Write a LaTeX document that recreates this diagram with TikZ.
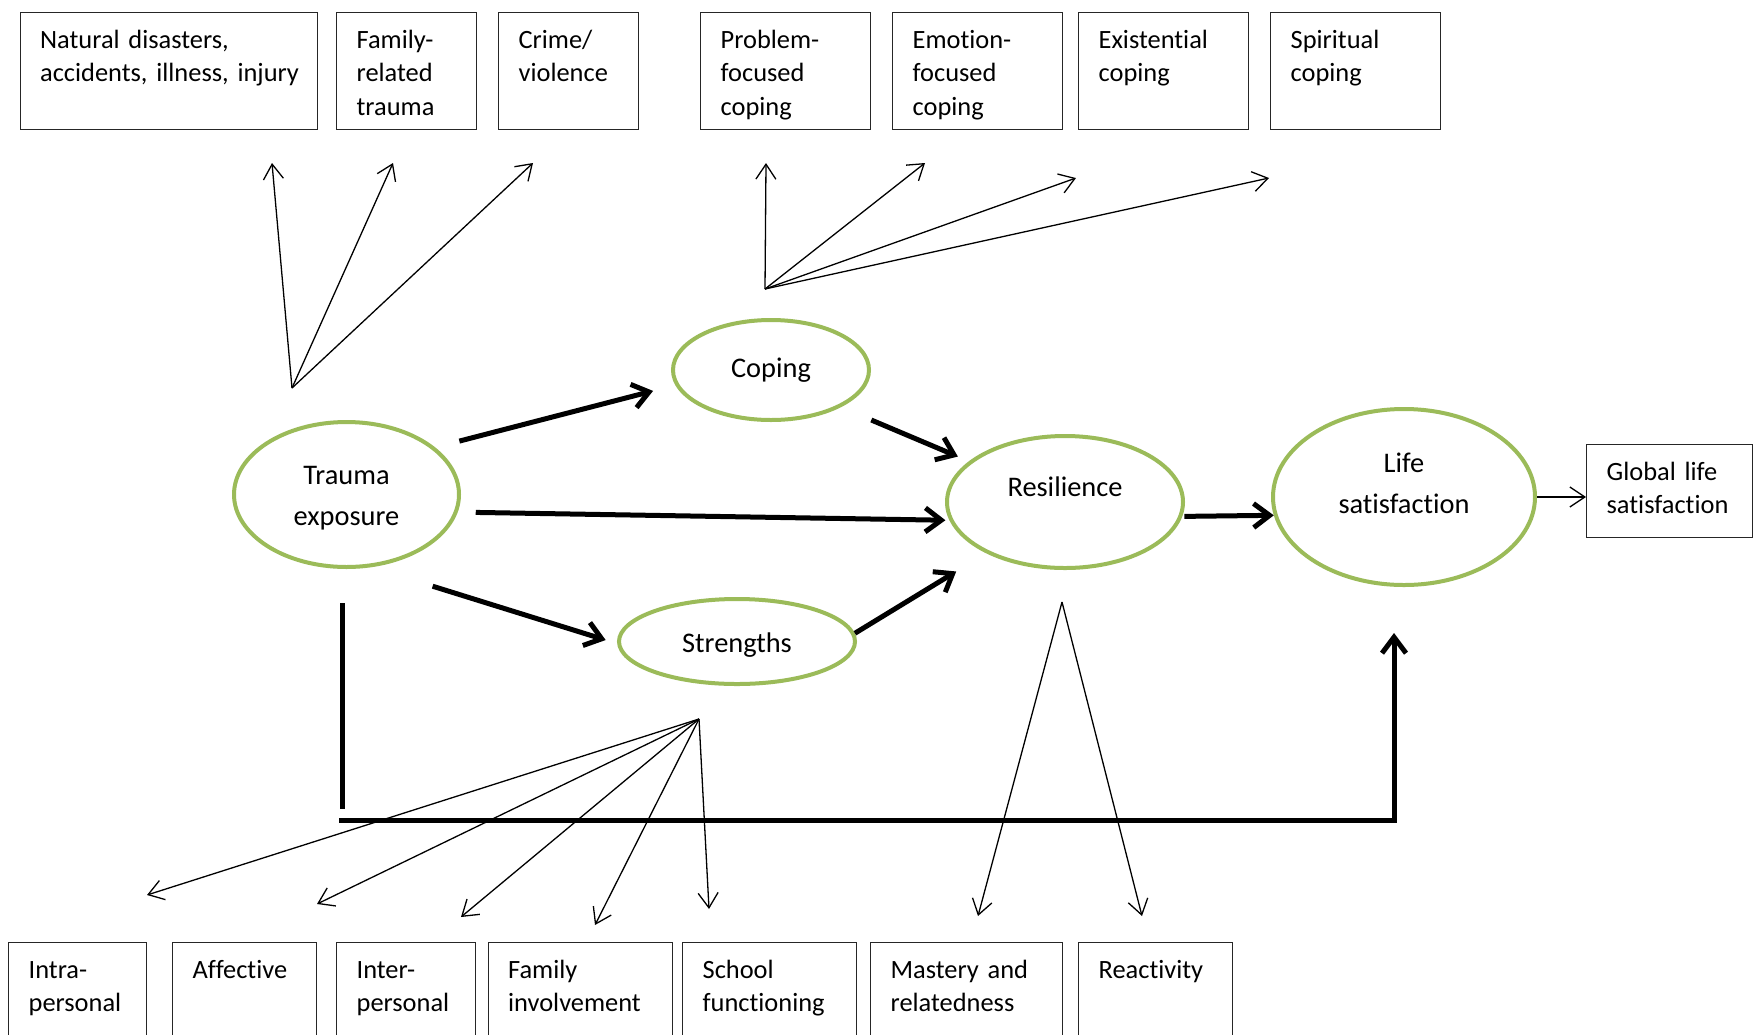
\documentclass[tikz,border=0pt]{standalone}
\usepackage{fontspec}
\setmainfont{Carlito}[Ligatures=NoCommon]
\usetikzlibrary{arrows.meta,shapes.geometric}
\definecolor{ovalgreen}{RGB}{155,187,89}
% lift text inside a node without changing the node's box
\newcommand{\liftup}[2]{\raisebox{#1}[\height][\depth]{#2}}
% two centred lines as one box
\newcommand{\twolines}[2]{\begin{tabular}{@{}c@{}}#1\\#2\end{tabular}}
\begin{document}
\begin{tikzpicture}[x=0.5pt,y=-0.5pt,
  oval/.style={ellipse, draw=ovalgreen, line width=2pt, inner sep=0pt, align=center,
    font=\fontsize{14.2pt}{20.5pt}\selectfont},
  infobox/.style={rectangle, draw=black!85, line width=0.65pt, anchor=north west,
    inner xsep=10pt, inner ysep=0pt, align=left,
    font=\fontsize{13.2pt}{16.6pt}\selectfont},
  toprow/.style={infobox, text height=18pt, text depth=40.5pt},
  lowrow/.style={infobox, text height=17.8pt, text depth=60pt},
  heavy/.style={line width=2.5pt},
  heavyarrow/.style={heavy, -{Straight Barb[length=8pt,width=12pt]}},
  thinarrow/.style={line width=0.65pt, -{Straight Barb[length=7.5pt,width=10pt]}},
]
\path[use as bounding box, clip] (0,0) rectangle (1756,1034);
\fill[white] (0,0) rectangle (1756,1034);

% trauma types
\node[toprow, text width=128.5pt] (nat) at (19.5,12) {Natural disasters,\\\mbox{accidents, illness, injury}};
\node[toprow, text width=50pt] (famtr) at (336,12) {Family-\\related\\trauma};
\node[toprow, text width=50pt] (crime) at (498,12) {Crime/\\violence};

% coping types
\node[toprow, text width=64.8pt] (prob) at (700,12) {Problem-\\focused\\coping};
\node[toprow, text width=65pt] (emo) at (892,12) {Emotion-\\focused\\coping};
\node[toprow, text width=65pt] (exist) at (1078,12) {Existential\\coping};
\node[toprow, text width=65pt] (spirit) at (1270,12) {Spiritual\\coping};

% strengths and resilience indicators
\node[lowrow, text width=49pt] (intra) at (8,942) {Intra-\\personal};
\node[lowrow, text width=52pt] (affect) at (172,942) {Affective};
\node[lowrow, text width=49.5pt] (inter) at (336,942) {Inter-\\personal};
\node[lowrow, text width=72.2pt] (faminv) at (487.5,942) {Family\\involvement};
\node[lowrow, text width=67pt] (school) at (682,942) {School\\functioning};
\node[lowrow, text width=76pt] (mastery) at (870,942) {Mastery and\\relatedness};
\node[lowrow, text width=57pt] (react) at (1078,942) {Reactivity};

% life satisfaction indicator
\node[infobox, text width=63pt, text height=18pt, text depth=28.5pt] (gls) at (1586,444) {Global life\\satisfaction};

% latent constructs
\node[oval, minimum width=112.5pt, minimum height=72.5pt] (trauma) at (346.5,494.5)
  {\liftup{-1pt}{\twolines{Trauma}{exposure}}};
\node[oval, minimum width=98pt, minimum height=50pt] (coping) at (771,370) {Coping};
\node[oval, minimum width=118pt, minimum height=66pt] (resil) at (1065,502) {\liftup{7.4pt}{Resilience}};
\node[oval, minimum width=118pt, minimum height=42.5pt] (strength) at (737,641.5) {\liftup{-1.7pt}{Strengths}};
\node[oval, minimum width=131pt, minimum height=88pt] (life) at (1404,497)
  {\liftup{5.9pt}{\twolines{Life}{satisfaction}}};

% structural paths
\draw[heavyarrow, shorten <=12.5pt, shorten >=11.5pt] (trauma.28) -- (coping.189);
\draw[heavyarrow, shorten <=9pt, shorten >=2pt] (trauma.-9) -- (resil.189);
\draw[heavyarrow, shorten <=32pt, shorten >=6pt] (trauma.-71) -- (strength.181);
\draw[heavyarrow, shorten <=16.5pt, shorten >=6pt] (coping.-28) -- (resil.157);
\draw[heavyarrow, shorten >=17.5pt] (strength.4) -- (resil.213);
\draw[heavyarrow, shorten <=1pt] (resil.-7) -- (life.188);
\draw[thinarrow] (life.east) -- (life.east -| gls.west);

% direct path from trauma exposure to life satisfaction
\coordinate (bar0) at ([xshift=-2.25pt,yshift=-17pt]trauma.south);
\coordinate (bar1) at (342,809);
\coordinate (bar2) at (339,820);
\coordinate (bar3) at (1394,820);
\coordinate (bar4) at ([xshift=-5pt,yshift=-23pt]life.south);
\draw[heavy] (bar0) -- (bar1);
\draw[heavyarrow] (bar2) -- (bar3) -- (bar4);

% measurement fans
\coordinate (tfan) at (292,388);
\coordinate (cfan) at (765,289);
\coordinate (sfan) at (699,719);
\coordinate (rfan) at (1062,602);
\coordinate (t1) at (272,163);
\coordinate (t2) at (393,163);
\coordinate (t3) at (533,163);
\coordinate (c1) at (766,163);
\coordinate (c2) at (925,163);
\coordinate (c3) at (1076,178);
\coordinate (c4) at (1269,178);
\coordinate (s1) at (147,895);
\coordinate (s2) at (317,904);
\coordinate (s3) at (461,917);
\coordinate (s4) at (595,925);
\coordinate (s5) at (709,909);
\coordinate (r1) at (978,916);
\coordinate (r2) at (1142,916);
\foreach \tip in {t1,t2,t3} \draw[thinarrow] (tfan) -- (\tip);
\foreach \tip in {c1,c2,c3,c4} \draw[thinarrow] (cfan) -- (\tip);
\foreach \tip in {s1,s2,s3,s4,s5} \draw[thinarrow] (sfan) -- (\tip);
\foreach \tip in {r1,r2} \draw[thinarrow] (rfan) -- (\tip);
\end{tikzpicture}
\end{document}
